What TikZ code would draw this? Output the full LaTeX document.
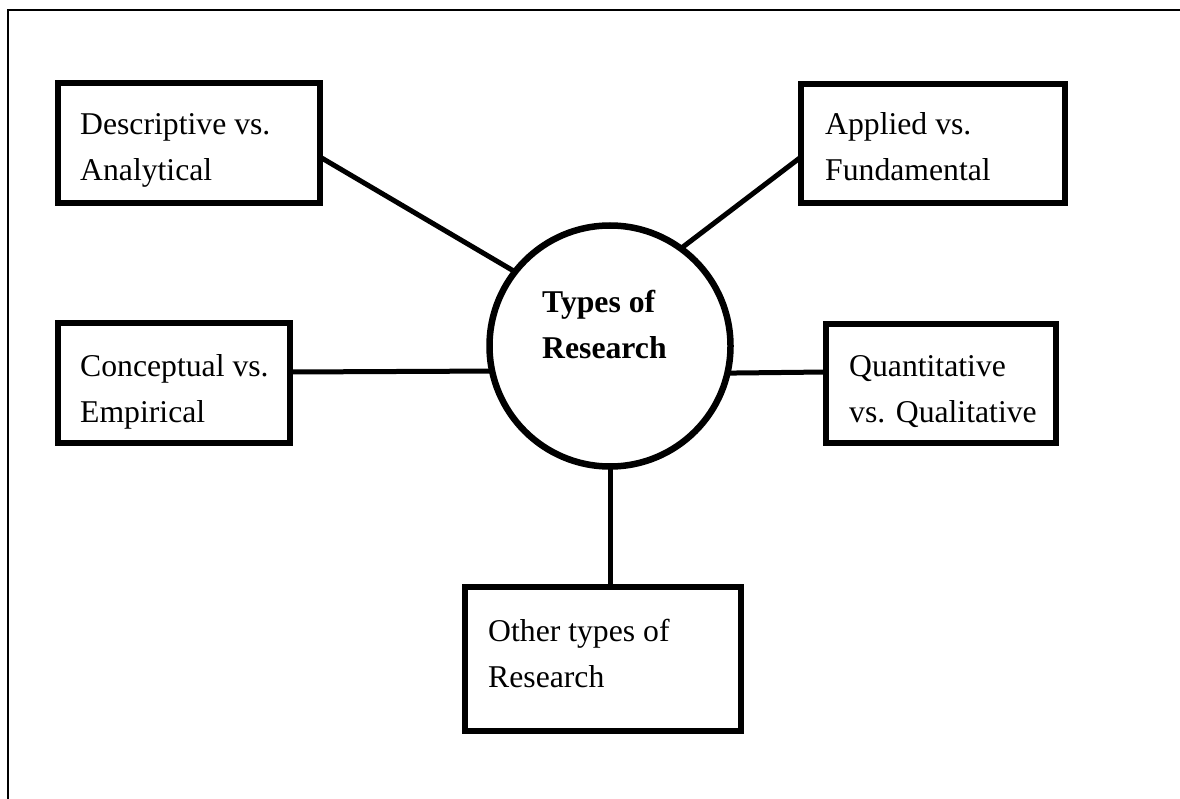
\documentclass[tikz,border=0pt]{standalone}
\usepackage{fontspec}
\setmainfont{Liberation Serif}
\usetikzlibrary{calc}
% two stacked lines whose baseline is that of the first line
\newcommand\twoline[2]{\vtop{\baselineskip=46pt\hbox{#1}\hbox{#2}}}
\begin{document}
\begin{tikzpicture}[x=1pt,y=-1pt,
  typebox/.style={draw,rectangle,line width=6pt,inner sep=0pt,outer sep=0pt,anchor=north west},
  hubshape/.style={draw,circle,line width=6.5pt,inner sep=0pt,outer sep=0pt,minimum size=241pt},
  label/.style={anchor=base west,inner sep=0pt,font=\fontsize{31.7}{46}\selectfont},
  link/.style={line width=5pt}]
  \useasboundingbox (0,0) rectangle (1180,799);
  % page frame (top and left edges)
  \draw[line width=2.8pt] (1180,10) -- (8,10) -- (8,799);

  % central topic
  \node[hubshape] (hub) at (610,346) {};
  \node[label,font=\fontsize{31.7}{46}\selectfont\bfseries] (hubtext) at (542,313) {\twoline{Types of}{Research}};

  % category boxes
  \node[typebox,minimum width=262pt,minimum height=120pt] (b1) at (58,83) {};
  \node[typebox,minimum width=264pt,minimum height=119pt] (b2) at (801,84) {};
  \node[typebox,minimum width=232pt,minimum height=120pt] (b3) at (58,323) {};
  \node[typebox,minimum width=230pt,minimum height=119pt] (b4) at (826,324) {};
  \node[typebox,minimum width=276pt,minimum height=144pt] (b5) at (465,587) {};

  \node[label] (t1) at (80,135) {\twoline{Descriptive vs.}{Analytical}};
  \node[label] (t2) at (825,135) {\twoline{Applied vs.}{Fundamental}};
  \node[label] (t3) at (80,377) {\twoline{Conceptual vs.}{Empirical}};
  \node[label] (t4) at (849,377) {\twoline{Quantitative}{vs. Qualitative}};
  \node[label] (t5) at (488,641) {\twoline{Other types of}{Research}};

  % connectors
  \coordinate (p1) at ($(b1.north east)+(0,74)$);
  \coordinate (p2) at ($(b2.north west)+(0,73)$);
  \coordinate (p3) at ($(b3.north east)+(0,49)$);
  \coordinate (p4) at ($(b4.north west)+(0,48)$);
  \draw[link] (p1) -- (hub.142.7);
  \draw[link] (p2) -- (hub.54);
  \draw[link] (p3) -- (hub.192.5);
  \draw[link] (hub.347.5) -- (p4);
  \draw[link] (hub.south) -- (hub.south |- b5.north);
\end{tikzpicture}
\end{document}
